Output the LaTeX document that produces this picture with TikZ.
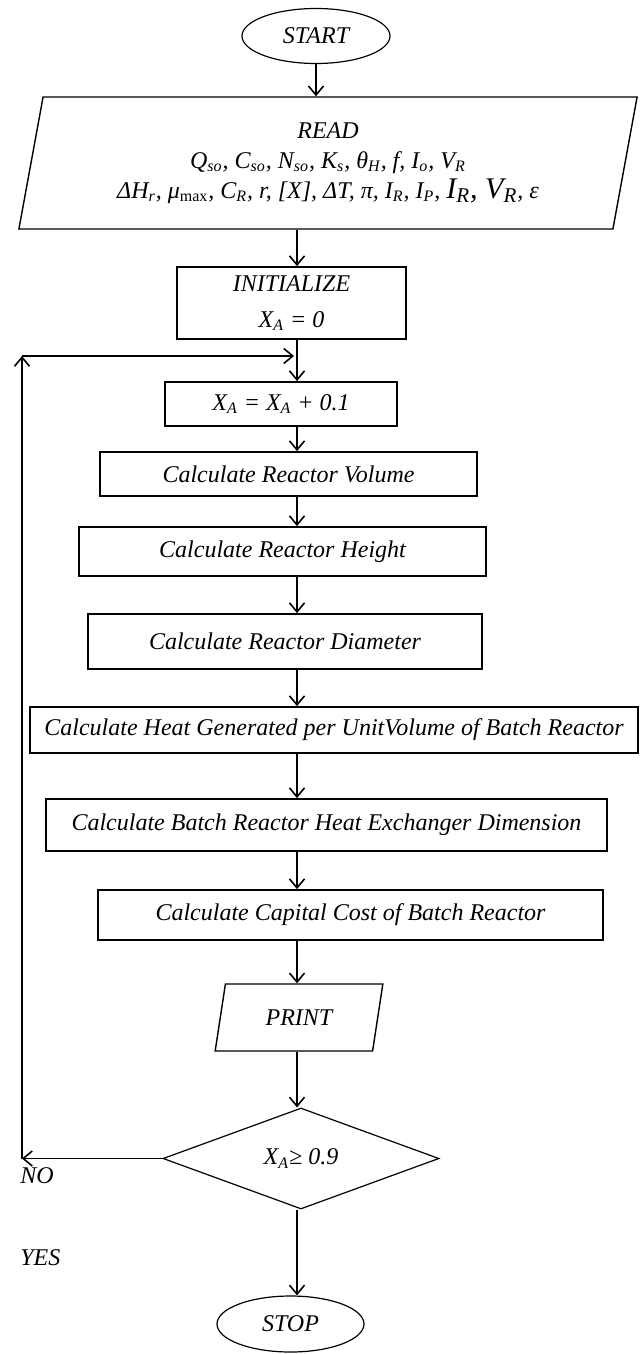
\documentclass[tikz,border=0pt]{standalone}
\usepackage{fontspec}
\setmainfont{Liberation Serif}
\usetikzlibrary{positioning, arrows.meta, shapes.geometric, calc}
\newcommand{\sbs}[1]{\textsubscript{#1}}

\begin{document}
\begin{tikzpicture}[
    x=0.5pt, y=-0.5pt,
    proc/.style={rectangle, draw=black, line width=0.9pt, inner sep=2pt, align=center, font=\fontsize{12}{15}\selectfont\itshape},
    io/.style={trapezium, trapezium left angle=78, trapezium right angle=102, trapezium stretches=true, draw=black, line width=0.7pt, inner sep=1pt, align=center, font=\fontsize{12}{15}\selectfont\itshape},
    term/.style={ellipse, draw=black, line width=0.6pt, inner sep=0pt, font=\fontsize{12}{15}\selectfont\itshape},
    decide/.style={diamond, draw=black, line width=0.6pt, inner sep=0pt, font=\fontsize{12}{15}\selectfont\itshape},
    lbl/.style={anchor=west, inner sep=1pt, font=\fontsize{12}{15}\selectfont\itshape},
    arr/.style={-{Straight Barb[length=4.5pt, width=7.5pt]}, line width=0.8pt, draw=black}
]
    \useasboundingbox (0,0) rectangle (640,1354);

    \node[term, minimum width=74pt, minimum height=27.5pt] (start) at (316,36) {START};

    \node[io, minimum width=310pt, minimum height=66pt] (read) at (328,163) {
        READ\\
        Q\sbs{so}, C\sbs{so}, N\sbs{so}, K\sbs{s}, θ\sbs{H}, f, I\sbs{o}, V\sbs{R}\\
        ΔH\sbs{r}, μ\sbs{\upshape max}, C\sbs{R}, r, [X], ΔT, π, I\sbs{R}, I\sbs{P}, {\fontsize{15}{15}\selectfont I\sbs{R}, V\sbs{R}}, ε
    };

    \node[proc, minimum width=114.5pt, minimum height=36pt] (init) at (291.5,303) {INITIALIZE\\[3pt] X\sbs{A} = 0};
    \node[proc, minimum width=116pt, minimum height=22pt] (xa) at (281,404) {X\sbs{A} = X\sbs{A} + 0.1};
    \node[proc, minimum width=188.5pt, minimum height=22pt] (vol) at (288.5,474) {Calculate Reactor Volume};
    \node[proc, minimum width=203.5pt, minimum height=24.5pt] (height) at (282.5,551.5) {Calculate Reactor Height};
    \node[proc, minimum width=197pt, minimum height=27.5pt] (diam) at (285,641.5) {Calculate Reactor Diameter};
    \node[proc, minimum width=304pt, minimum height=23pt] (heat) at (334,730) {Calculate Heat Generated per UnitVolume of Batch Reactor};
    \node[proc, minimum width=280.5pt, minimum height=26pt] (hex) at (326.5,825) {Calculate Batch Reactor Heat Exchanger Dimension};
    \node[proc, minimum width=252.5pt, minimum height=25pt] (cost) at (350.5,915) {Calculate Capital Cost of Batch Reactor};

    \node[io, trapezium left angle=76, trapezium right angle=104, minimum width=84pt, minimum height=33.5pt] (print) at (299,1017.5) {PRINT};

    \node[decide, minimum width=138pt, minimum height=50.5pt] (dec) at (301,1158.5) {X\sbs{A}≥ 0.9};

    \node[term, minimum width=73.5pt, minimum height=28pt] (stop) at (290.5,1324) {STOP};

    \node[lbl] (no) at (18,1176) {NO};
    \node[lbl] (yes) at (18,1258) {YES};

    % main line
    \coordinate (axis) at (297,0);
    \draw[arr] (start.south) -- (start.south |- read.north);
    \draw[arr] (read.south -| axis) -- (init.north -| axis);
    \draw[arr] (init.south -| axis) -- (xa.north -| axis);
    \draw[arr] (xa.south -| axis) -- (vol.north -| axis);
    \draw[arr] (vol.south -| axis) -- (height.north -| axis);
    \draw[arr] (height.south -| axis) -- (diam.north -| axis);
    \draw[arr] (diam.south -| axis) -- (heat.north -| axis);
    \draw[arr] (heat.south -| axis) -- (hex.north -| axis);
    \draw[arr] (hex.south -| axis) -- (cost.north -| axis);
    \draw[arr] (cost.south -| axis) -- (print.north -| axis);
    \draw[arr] (print.south -| axis) -- (dec.north -| axis);
    \draw[arr] (dec.south -| axis) -- (stop.north -| axis);

    % loop back
    \coordinate (nocorner) at (22,1158.5);
    \coordinate (loopcorner) at (22,356);
    \draw[arr] (dec.west) -- (nocorner);
    \draw[arr] (nocorner) -- (loopcorner);
    \draw[arr] (loopcorner) -- ($(loopcorner -| axis)+(-3,0)$);
\end{tikzpicture}
\end{document}
